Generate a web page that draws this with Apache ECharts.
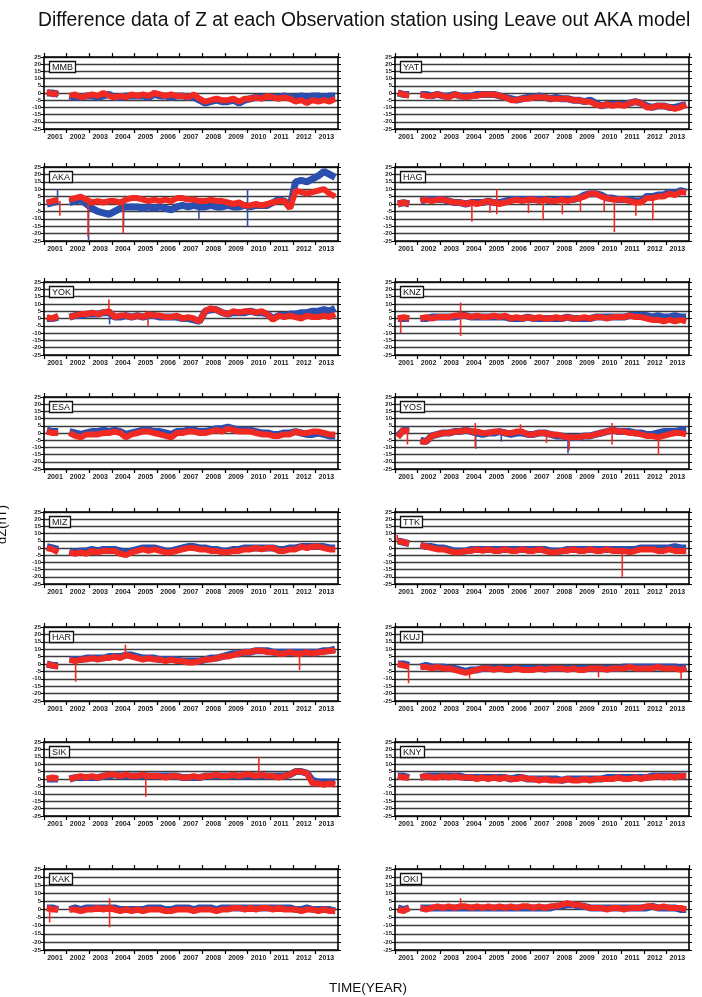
<!DOCTYPE html>
<html>
<head>
<meta charset="utf-8">
<script src="https://cdn.jsdelivr.net/npm/echarts@6/dist/echarts.min.js"></script>
<style>
  html, body { margin: 0; padding: 0; background: #fff; }
  #chart { width: 702px; height: 997px; }
</style>
</head>
<body>
<div id="chart"></div>
<script>
// quarter mid-points, 2001 .. 2013
const TIMES = [
  2001.125, 2001.375, 2001.625, 2001.875, 2002.125, 2002.375, 2002.625, 2002.875,
  2003.125, 2003.375, 2003.625, 2003.875, 2004.125, 2004.375, 2004.625, 2004.875,
  2005.125, 2005.375, 2005.625, 2005.875, 2006.125, 2006.375, 2006.625, 2006.875,
  2007.125, 2007.375, 2007.625, 2007.875, 2008.125, 2008.375, 2008.625, 2008.875,
  2009.125, 2009.375, 2009.625, 2009.875, 2010.125, 2010.375, 2010.625, 2010.875,
  2011.125, 2011.375, 2011.625, 2011.875, 2012.125, 2012.375, 2012.625, 2012.875,
  2013.125, 2013.375, 2013.625, 2013.875
];
const YEARS = ['2001','2002','2003','2004','2005','2006','2007','2008','2009','2010','2011','2012','2013'];

const MMB_RED  = [1,-1,0,null, -2,-1,-3,-2, -1,-2,0,-2, -3,-2,-3,-1, -2,-1,-2,0, -1,-2,-1,-2, -2,-3,-1,-4, -6,-5,-4,-5, -5,-4,-6,-4, -4,-3,-4,-2, -3,-4,-3,-4, -6,-5,-7,-5, -6,-5,-6,-4];
const MMB_BLUE = [0,0,-1,null, -2,-3,-3,-2, -2,-3,-2,-1, -3,-3,-2,-2, -2,-2,-3,-1, -2,-2,-3,-2, -2,-3,-3,-5, -7,-6,-5,-6, -6,-5,-7,-5, -4,-3,-3,-3, -3,-3,-2,-3, -3,-2,-3,-2, -2,-3,-2,-2];
const YAT_RED  = [0,-1,-2,null, -1,-2,-2,-1, -2,-3,-1,-2, -3,-2,-2,-1, -1,-1,-2,-3, -5,-5,-4,-4, -3,-3,-3,-4, -4,-4,-4,-5, -5,-6,-6,-8, -9,-8,-9,-8, -9,-7,-6,-7, -10,-10,-9,-9, -10,-11,-10,-8];
const YAT_BLUE = [0,-1,-1,null, -1,-1,-2,-1, -2,-2,-1,-2, -2,-2,-1,-1, -1,-1,-2,-3, -4,-5,-4,-3, -3,-2,-3,-4, -3,-4,-4,-5, -5,-6,-5,-7, -9,-8,-8,-8, -8,-7,-6,-7, -9,-10,-9,-9, -10,-10,-9,-8];
const AKA_RED  = [1,2,3,null, 3,4,5,3, 1,2,1,2, 2,1,3,4, 4,3,2,3, 2,3,2,4, 4,3,3,2, 2,3,2,2, 1,0,1,-1, -1,0,-1,0, 1,2,2,-3, 9,8,7,8, 9,10,7,5];
const AKA_BLUE = [0,1,2,null, 1,2,3,0, -3,-5,-6,-7, -5,-3,-2,-2, -2,-3,-2,-3, -2,-3,-4,-2, -1,-2,-1,-2, -2,-1,-2,-2, -1,-2,-2,-1, -2,-1,-1,-1, 1,3,2,-2, 15,16,15,17, 19,22,20,18];
const HAG_RED  = [0,1,0,null, 2,3,2,3, 3,2,1,1, 0,1,0,1, 2,1,0,1, 2,3,2,3, 3,2,3,2, 2,3,2,3, 4,5,7,7, 5,4,3,3, 3,2,1,1, 4,4,5,5, 7,6,8,8];
const HAG_BLUE = [0,1,0,null, 2,3,3,3, 3,2,1,1, 0,1,1,1, 2,1,1,2, 3,3,3,3, 3,3,3,2, 3,3,3,3, 4,6,7,7, 6,4,4,3, 3,3,2,2, 5,5,6,6, 8,7,9,8];
const YOK_RED  = [1,0,2,null, 1,2,3,3, 4,3,4,5, 1,2,2,1, 2,1,3,2, 2,1,1,2, 0,1,0,-2, 5,7,6,4, 3,5,4,5, 5,4,5,3, -1,2,1,2, 1,0,2,1, 1,2,1,3];
const YOK_BLUE = [0,0,1,null, 1,2,2,3, 3,3,4,4, 1,1,2,1, 2,1,2,2, 1,1,1,1, 0,0,-1,-2, 5,6,6,4, 3,4,4,4, 5,4,4,3, 0,2,2,3, 3,4,4,5, 5,6,5,7];
const KNZ_RED  = [0,1,0,null, 0,1,0,1, 1,1,2,2, 2,1,2,1, 1,2,1,2, 0,1,0,1, 0,1,0,0, 1,0,1,0, 0,1,0,1, 1,0,1,1, 1,2,1,1, 0,-1,-1,-2, -1,-2,-1,-2];
const KNZ_BLUE = [0,0,0,null, 0,0,1,1, 1,1,1,2, 2,1,1,1, 1,1,1,1, 0,0,0,1, 0,0,0,0, 0,0,1,0, 0,0,0,1, 1,1,1,1, 1,2,2,2, 2,1,2,1, 1,2,1,1];
const ESA_RED  = [1,0,0,null, 0,-2,-3,-1, -1,-1,0,0, 1,0,-3,-1, 0,1,1,0, -1,-2,-3,0, 0,1,1,0, 0,1,2,1, 3,2,1,1, 1,0,-1,-1, -2,-2,-1,-1, 1,0,0,1, 1,0,-1,-1];
const ESA_BLUE = [2,1,1,null, 1,0,-1,0, 1,1,2,1, 2,1,-1,0, 1,2,2,1, 1,0,-1,1, 1,2,2,1, 1,2,3,3, 4,3,2,2, 2,1,0,0, -1,-1,0,0, 1,0,-1,-1, 0,-1,-2,-2];
const YOS_RED  = [-3,2,1,null, -6,-6,-2,-1, 0,0,1,1, 2,1,1,0, 0,1,1,0, 0,1,1,-1, -1,0,0,-1, -1,-2,-3,-3, -3,-2,-2,-1, 0,1,2,1, 1,0,0,-1, -2,-2,-3,-2, -1,0,0,-1];
const YOS_BLUE = [-2,2,2,null, -5,-6,-2,-1, 0,0,1,1, 2,1,0,-1, 0,0,1,0, -1,0,0,-1, -1,0,0,-1, -2,-2,-3,-3, -3,-2,-2,-1, 0,1,2,1, 1,1,0,0, -1,-1,0,1, 1,1,2,2];
const MIZ_RED  = [0,-1,-3,null, -3,-4,-3,-4, -2,-3,-2,-2, -2,-4,-5,-3, -2,-1,-2,-1, -2,-3,-3,-2, -1,0,0,-1, -1,-2,-2,-3, -3,-2,-2,-1, -1,0,-1,0, 0,-2,-2,-1, -1,1,0,1, 1,0,-1,-1];
const MIZ_BLUE = [1,0,-1,null, -2,-3,-2,-2, -1,-2,-1,-1, -1,-2,-3,-2, -1,0,0,0, -1,-2,-2,-1, 0,1,1,0, 0,-1,-1,-2, -2,-1,-1,0, 0,0,0,0, 0,-1,-1,0, 0,1,1,1, 1,1,0,0];
const TTK_RED  = [5,4,3,null, 2,1,0,-1, -1,-2,-3,-3, -2,-2,-1,-2, -1,-2,-2,-1, -2,-2,-1,-2, -2,-1,-2,-3, -3,-2,-2,-1, -2,-2,-1,-2, -2,-1,-2,-2, -2,-3,-2,-1, -1,-1,-2,-2, -1,-2,-2,-2];
const TTK_BLUE = [5,4,3,null, 2,1,1,0, 0,-1,-2,-2, -2,-1,-1,-1, -1,-1,-1,-1, -1,-1,-1,-1, -1,-1,-1,-2, -2,-2,-1,-1, -1,-1,-1,-1, -1,-1,-1,-1, -1,-1,-1,0, 0,0,0,0, 0,1,0,0];
const HAR_RED  = [0,-1,-2,null, 3,2,3,3, 4,3,4,4, 5,4,6,5, 4,3,4,3, 3,2,3,2, 2,1,1,2, 3,3,4,5, 5,6,7,8, 8,9,9,8, 8,7,7,8, 7,7,8,7, 8,8,9,9];
const HAR_BLUE = [0,-1,-1,null, 3,3,3,4, 4,4,4,5, 5,5,6,6, 5,4,4,4, 3,3,3,3, 2,2,2,2, 3,4,4,5, 6,7,7,8, 8,9,9,9, 8,8,8,8, 8,8,8,8, 8,9,9,10];
const KUJ_RED  = [0,-1,-2,null, -2,-2,-3,-2, -3,-3,-4,-5, -6,-5,-4,-3, -3,-4,-3,-4, -4,-3,-4,-4, -4,-3,-4,-3, -3,-3,-4,-3, -4,-4,-3,-3, -3,-4,-3,-3, -3,-2,-3,-3, -3,-3,-2,-3, -3,-3,-4,-3];
const KUJ_BLUE = [0,0,-1,null, -2,-1,-2,-2, -2,-3,-3,-4, -5,-4,-4,-3, -3,-3,-3,-3, -3,-3,-3,-3, -3,-3,-3,-3, -3,-3,-3,-3, -3,-3,-3,-3, -3,-3,-3,-3, -2,-2,-2,-2, -2,-2,-2,-2, -2,-2,-3,-2];
const SIK_RED  = [0,1,0,null, 0,1,2,1, 2,1,2,3, 3,2,3,2, 2,3,2,2, 2,1,2,2, 1,1,2,1, 2,2,3,2, 2,3,2,3, 3,2,3,2, 2,1,2,3, 5,5,4,-3, -3,-4,-3,-4];
const SIK_BLUE = [0,0,0,null, 0,1,1,1, 1,1,2,2, 3,2,2,2, 2,2,2,2, 2,2,2,2, 1,1,1,1, 2,2,2,2, 2,2,2,2, 2,2,2,2, 2,2,2,3, 5,5,4,-1, -2,-2,-2,-2];
const KNY_RED  = [2,1,1,null, 1,2,1,1, 2,1,2,1, 1,1,0,1, 0,1,0,1, 0,0,1,0, 0,-1,0,-1, -1,-1,0,-1, -1,0,-1,0, 0,0,0,1, 0,0,1,0, 1,1,2,1, 2,1,2,2];
const KNY_BLUE = [2,2,1,null, 1,2,2,2, 2,2,2,2, 1,1,1,1, 1,1,1,1, 0,1,1,0, 0,0,0,0, 0,-1,0,0, 0,0,0,0, 0,1,1,1, 1,1,1,1, 1,2,2,2, 2,2,2,2];
const KAK_RED  = [1,0,0,null, 0,0,-1,0, 0,1,0,1, 0,-1,0,-1, 0,-1,0,0, 0,-1,-1,0, 0,0,-1,0, 0,0,-1,0, 0,1,1,0, 1,0,1,1, 0,1,0,0, 0,-1,0,0, -1,0,-1,-1];
const KAK_BLUE = [1,1,0,null, 0,1,0,1, 1,1,1,1, 1,0,0,0, 0,0,1,1, 1,0,0,1, 1,1,0,1, 1,1,0,1, 1,1,1,1, 1,1,1,1, 1,1,1,1, 0,0,1,0, 0,0,0,-1];
const OKI_RED  = [0,-1,1,null, 1,0,1,2, 1,2,1,2, 2,1,2,1, 2,1,2,1, 2,1,2,2, 1,2,1,2, 2,3,4,3, 3,2,1,1, 1,0,1,1, 0,1,1,1, 2,2,1,2, 1,1,1,0];
const OKI_BLUE = [1,0,1,null, 1,1,1,1, 1,1,1,1, 1,1,1,1, 1,1,1,1, 1,1,1,1, 1,1,1,1, 2,2,3,3, 2,2,1,1, 1,1,1,1, 1,1,1,1, 1,2,1,1, 1,1,0,0];

// single-day spikes: [year, from, to]
const AKA_RED_SPIKES  = [[2001.7,2,-8],[2002.95,0,-22],[2004.5,1,-20]];
const AKA_BLUE_SPIKES = [[2001.6,2,10],[2002.97,-3,-25],[2004.52,-3,-15],[2007.85,-2,-10],[2010.0,-15,10]];
const HAG_RED_SPIKES  = [[2004.4,0,-12],[2005.2,1,-6],[2005.5,10,-7],[2006.9,2,-6],[2007.55,2,-11],[2008.4,2,-7],[2009.2,4,-5],[2010.25,5,-5],[2010.7,4,-19],[2011.65,1,-8],[2012.4,4,-11]];
const YOK_RED_SPIKES  = [[2003.87,4,13],[2005.6,2,-5]];
const YOK_BLUE_SPIKES = [[2003.9,3,-4]];
const KNZ_RED_SPIKES  = [[2001.25,0,-10],[2003.9,-12,11]];
const YOS_RED_SPIKES  = [[2001.55,1,-8],[2004.55,7,-10],[2006.55,1,6],[2007.7,0,-7],[2008.7,-2,-12],[2010.6,7,-8],[2012.65,-2,-15]];
const YOS_BLUE_SPIKES = [[2004.57,1,-11],[2005.7,0,-6],[2008.65,-2,-14]];
const TTK_RED_SPIKES  = [[2001.1,5,9],[2011.05,-2,-20]];
const HAR_RED_SPIKES  = [[2002.4,3,-12],[2004.6,5,13],[2012.3,7,-4]];
const KUJ_RED_SPIKES  = [[2001.6,-2,-13],[2004.3,-5,-10],[2010.0,-3,-9],[2013.65,-3,-10]];
const SIK_RED_SPIKES  = [[2005.5,2,-12],[2010.5,3,15]];
const KAK_RED_SPIKES  = [[2001.25,0,-8],[2003.9,-11,7]];
const OKI_RED_SPIKES  = [[2003.9,1,7]];

const LEFT_STATIONS  = ['MMB','AKA','YOK','ESA','MIZ','HAR','SIK','KAK'];
const RIGHT_STATIONS = ['YAT','HAG','KNZ','YOS','TTK','KUJ','KNY','OKI'];

const RED = { MMB: MMB_RED, YAT: YAT_RED, AKA: AKA_RED, HAG: HAG_RED, YOK: YOK_RED, KNZ: KNZ_RED, ESA: ESA_RED, YOS: YOS_RED,
  MIZ: MIZ_RED, TTK: TTK_RED, HAR: HAR_RED, KUJ: KUJ_RED, SIK: SIK_RED, KNY: KNY_RED, KAK: KAK_RED, OKI: OKI_RED };
const BLUE = { MMB: MMB_BLUE, YAT: YAT_BLUE, AKA: AKA_BLUE, HAG: HAG_BLUE, YOK: YOK_BLUE, KNZ: KNZ_BLUE, ESA: ESA_BLUE, YOS: YOS_BLUE,
  MIZ: MIZ_BLUE, TTK: TTK_BLUE, HAR: HAR_BLUE, KUJ: KUJ_BLUE, SIK: SIK_BLUE, KNY: KNY_BLUE, KAK: KAK_BLUE, OKI: OKI_BLUE };
const RED_SPIKES = { AKA: AKA_RED_SPIKES, HAG: HAG_RED_SPIKES, YOK: YOK_RED_SPIKES, KNZ: KNZ_RED_SPIKES, YOS: YOS_RED_SPIKES,
  TTK: TTK_RED_SPIKES, HAR: HAR_RED_SPIKES, KUJ: KUJ_RED_SPIKES, SIK: SIK_RED_SPIKES, KAK: KAK_RED_SPIKES, OKI: OKI_RED_SPIKES };
const BLUE_SPIKES = { AKA: AKA_BLUE_SPIKES, YOK: YOK_BLUE_SPIKES, YOS: YOS_BLUE_SPIKES };

const ROW_TOPS = [57, 167, 282, 397, 512, 627, 742, 869];
const ROW_HEIGHTS = [72, 74, 73, 72, 72, 74, 74, 81];
const COL_LEFTS = [44, 395];
const PLOT_W = 294;

const RED_COLOR = '#f02a22';
const BLUE_COLOR = '#2a4fae';

const toPairs = vals => vals.map((v, i) => [TIMES[i], v == null ? '-' : v]);
const toSpikes = list => (list || []).flatMap(s => [[s[0], s[1]], [s[0], s[2]], ['-', '-']]);

const grids = [], xAxes = [], yAxes = [], series = [], titles = [];

titles.push({
  text: 'Difference data of Z at each Observation station using Leave out AKA model',
  left: 33, top: 6,
  textStyle: { fontFamily: 'Liberation Sans', fontSize: 19.3, fontWeight: 'normal', color: '#111' }
});
titles.push({
  text: 'TIME(YEAR)', left: 324, top: 976,
  textStyle: { fontFamily: 'Liberation Sans', fontSize: 13.5, fontWeight: 'normal', color: '#111' }
});

const stations = [];
LEFT_STATIONS.forEach((s, r) => stations.push({ name: s, col: 0, row: r }));
RIGHT_STATIONS.forEach((s, r) => stations.push({ name: s, col: 1, row: r }));

stations.forEach((st, k) => {
  const left = COL_LEFTS[st.col], top = ROW_TOPS[st.row], h = ROW_HEIGHTS[st.row];
  grids.push({ left: left, top: top, width: PLOT_W, height: h });

  const frame = { show: true, onZero: false, lineStyle: { color: '#000', width: 1.6 } };
  xAxes.push({
    type: 'value', gridIndex: k, min: 2001, max: 2014, interval: 1, position: 'bottom',
    axisLine: frame, axisTick: { show: true, length: 4, lineStyle: { color: '#000', width: 1.2 } },
    splitLine: { show: false },
    axisLabel: {
      show: true, showMaxLabel: false, margin: 5, padding: [0, 0, 0, 22],
      fontFamily: 'Liberation Sans Narrow, Liberation Sans', fontSize: 7, fontWeight: 'bold', color: '#222',
      formatter: v => YEARS[Math.round(v) - 2001] || ''
    }
  });
  xAxes.push({
    type: 'value', gridIndex: k, min: 2001, max: 2014, interval: 1, position: 'top',
    axisLine: frame, axisTick: { show: true, length: 4, lineStyle: { color: '#000', width: 1.2 } },
    splitLine: { show: false }, axisLabel: { show: false }
  });
  yAxes.push({
    type: 'value', gridIndex: k, min: -25, max: 25, interval: 5, position: 'left',
    axisLine: frame, axisTick: { show: true, length: 3, lineStyle: { color: '#000', width: 1 } },
    splitLine: { show: true, lineStyle: { color: '#3c3c3c', width: 1.3 } },
    axisLabel: { margin: 3, fontFamily: 'Liberation Sans Narrow, Liberation Sans', fontSize: 6, fontWeight: 'bold', color: '#222' }
  });
  yAxes.push({
    type: 'value', gridIndex: k, min: -25, max: 25, interval: 5, position: 'right',
    axisLine: frame, axisTick: { show: true, length: 3, lineStyle: { color: '#000', width: 1 } },
    splitLine: { show: false }, axisLabel: { show: false }
  });

  const xi = 2 * k, yi = 2 * k;
  series.push({
    type: 'line', xAxisIndex: xi, yAxisIndex: yi, data: toPairs(BLUE[st.name]),
    showSymbol: false, connectNulls: false, z: 2,
    lineStyle: { color: BLUE_COLOR, width: 7 }
  });
  series.push({
    type: 'line', xAxisIndex: xi, yAxisIndex: yi, data: toSpikes(BLUE_SPIKES[st.name]),
    showSymbol: false, connectNulls: false, z: 2,
    lineStyle: { color: BLUE_COLOR, width: 1.6 }
  });
  series.push({
    type: 'line', xAxisIndex: xi, yAxisIndex: yi, data: toPairs(RED[st.name]),
    showSymbol: false, connectNulls: false, z: 3,
    lineStyle: { color: RED_COLOR, width: 6 }
  });
  series.push({
    type: 'line', xAxisIndex: xi, yAxisIndex: yi, data: toSpikes(RED_SPIKES[st.name]),
    showSymbol: false, connectNulls: false, z: 3,
    lineStyle: { color: RED_COLOR, width: 1.6 }
  });

  titles.push({
    text: st.name, left: left + 5, top: top + 4,
    backgroundColor: '#fff', borderColor: '#111', borderWidth: 1.3, padding: [2, 3, 1, 3],
    textStyle: { fontFamily: 'Liberation Sans', fontSize: 9, fontWeight: 'normal', color: '#111' }
  });
});

const chart = echarts.init(document.getElementById('chart'), null, { renderer: 'canvas' });
chart.setOption({
  animation: false,
  backgroundColor: '#fff',
  title: titles,
  grid: grids,
  xAxis: xAxes,
  yAxis: yAxes,
  series: series,
  graphic: [{
    type: 'text', left: -4, top: 505, rotation: Math.PI / 2,
    style: { text: 'dZ(nT)', fontFamily: 'Liberation Sans', fontSize: 13, fill: '#111' }
  }]
});
</script>
</body>
</html>
